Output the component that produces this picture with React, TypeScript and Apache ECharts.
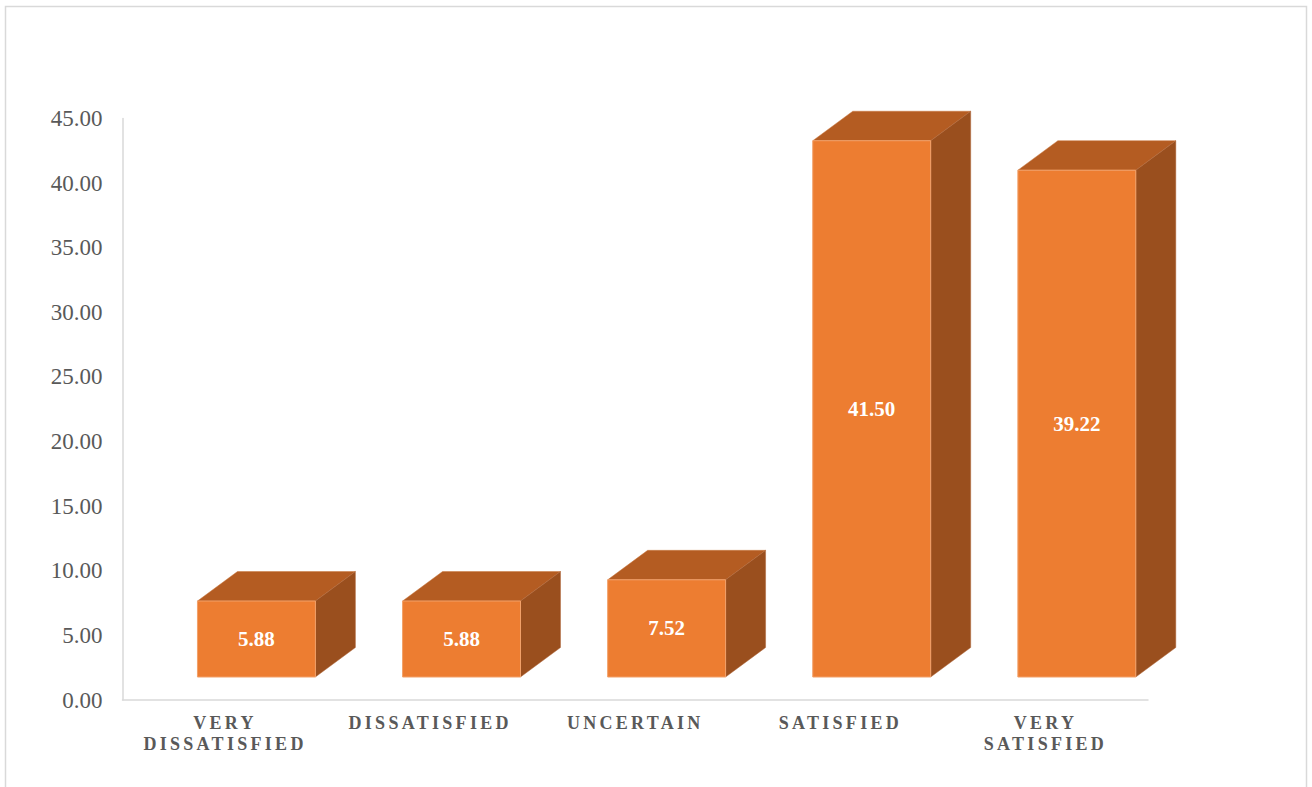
import React, { useEffect, useRef } from "react";
import * as echarts from "echarts";

const categories = ["VERY\nDISSATISFIED", "DISSATISFIED", "UNCERTAIN", "SATISFIED", "VERY\nSATISFIED"];
const values = [5.88, 5.88, 7.52, 41.5, 39.22];
const yMin = 0;
const yMax = 45;
const yInterval = 5;

const FRONT = "#ED7D31";
const TOP = "#B45C22";
const SIDE = "#9A4F1E";

export default function App() {
  const ref = useRef<HTMLDivElement>(null);
  useEffect(() => {
    document.body.style.margin = "0";
    const chart = echarts.init(ref.current!, null, { renderer: "svg" });
    chart.setOption({
      animation: false,
      backgroundColor: "#fff",
      graphic: [
        {
          type: "rect",
          shape: { x: 5.5, y: 6.5, width: 1301, height: 800 },
          style: { fill: "none", stroke: "#D9D9D9", lineWidth: 1.5 },
          silent: true,
        },
      ],
      grid: { left: 122.5, right: 164, top: 118.5, bottom: 87 },
      xAxis: {
        type: "category",
        data: categories,
        boundaryGap: true,
        axisLine: { show: true, lineStyle: { color: "#D9D9D9", width: 1.5 } },
        axisTick: { show: false },
        axisLabel: {
          interval: 0,
          margin: 12,
          color: "#595959",
          fontFamily: "Liberation Serif",
          fontWeight: "bold",
          fontSize: 18,
          lineHeight: 21,
        },
      },
      yAxis: {
        type: "value",
        min: yMin,
        max: yMax,
        interval: yInterval,
        axisLine: { show: true, lineStyle: { color: "#D9D9D9", width: 1.5 } },
        axisTick: { show: false },
        splitLine: { show: false },
        axisLabel: {
          margin: 20,
          color: "#595959",
          fontFamily: "Liberation Serif",
          fontSize: 23,
          formatter: (v: number) => v.toFixed(2),
        },
      },
      series: [
        {
          type: "custom",
          clip: false,
          data: values.map((v, i) => [i, v]),
          renderItem: (params: any, api: any) => {
            const idx = api.value(0);
            const val = api.value(1);
            const [cx, topY] = api.coord([idx, val]);
            const zeroY = api.coord([idx, 0])[1];
            const w = api.size([1, 0])[0];
            const lift = 23;
            const x0 = cx - 0.1345 * w;
            const x1 = x0 + 0.575 * w;
            const yb = zeroY - lift;
            const yt = topY - lift;
            const dx = 0.195 * w;
            const dy = 29.5;
            return {
              type: "group",
              children: [
                {
                  type: "polygon",
                  shape: { points: [[x0, yt], [x1, yt], [x1 + dx, yt - dy], [x0 + dx, yt - dy]] },
                  style: { fill: TOP, stroke: "#C9763F", lineWidth: 0.5 },
                },
                {
                  type: "polygon",
                  shape: { points: [[x1, yt], [x1 + dx, yt - dy], [x1 + dx, yb - dy], [x1, yb]] },
                  style: { fill: SIDE, stroke: "#B0663A", lineWidth: 0.5 },
                },
                {
                  type: "rect",
                  shape: { x: x0, y: yt, width: x1 - x0, height: yb - yt },
                  style: { fill: FRONT, stroke: "#F2A069", lineWidth: 1 },
                },
                {
                  type: "text",
                  style: {
                    text: val.toFixed(2),
                    x: (x0 + x1) / 2,
                    y: (yt + yb) / 2,
                    align: "center",
                    verticalAlign: "middle",
                    fill: "#FFFFFF",
                    font: 'bold 21px "Liberation Serif"',
                  },
                },
              ],
            };
          },
        },
      ],
    });
    return () => chart.dispose();
  }, []);
  return (
    <>
      <style>{`#chartbox text[style*="18px"]{letter-spacing:3.3px}`}</style>
      <div id="chartbox" ref={ref} style={{ width: 1312, height: 787 }} />
    </>
  );
}
